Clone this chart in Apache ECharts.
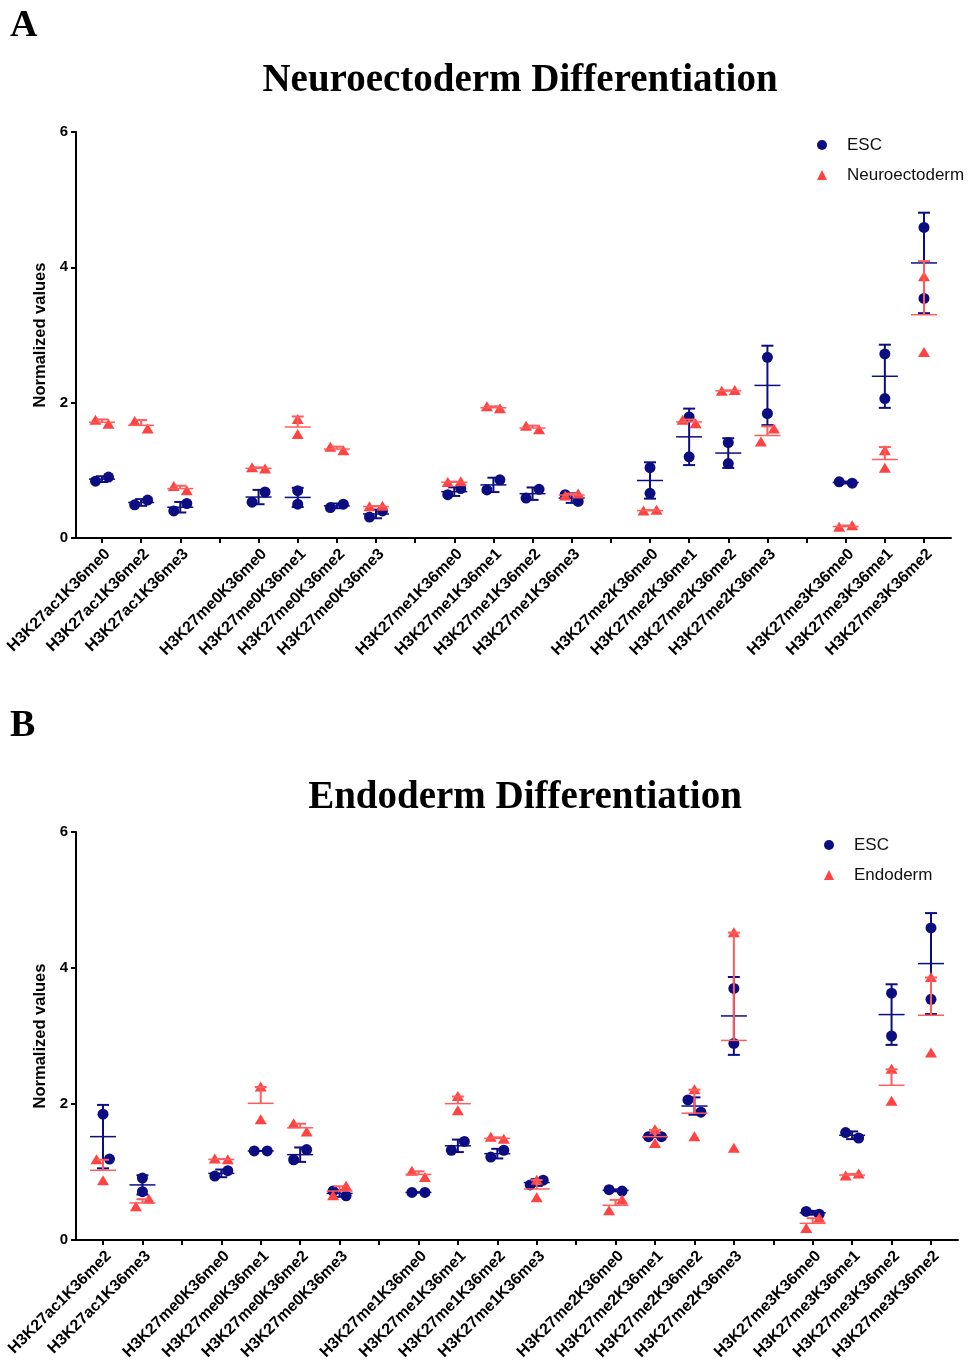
<!DOCTYPE html>
<html>
<head>
<meta charset="utf-8">
<title>Differentiation</title>
<script src="https://cdn.jsdelivr.net/npm/echarts@6/dist/echarts.min.js"></script>
<style>
  html, body { margin: 0; padding: 0; background: #fff; }
  .panel { width: 974px; height: 683px; }
</style>
</head>
<body>
<div id="chartA" class="panel"></div>
<div id="chartB" class="panel"></div>
<script>
// categories ('' = empty slot between groups)
var catsA = ['H3K27ac1K36me0', 'H3K27ac1K36me2', 'H3K27ac1K36me3', '',
  'H3K27me0K36me0', 'H3K27me0K36me1', 'H3K27me0K36me2', 'H3K27me0K36me3', '',
  'H3K27me1K36me0', 'H3K27me1K36me1', 'H3K27me1K36me2', 'H3K27me1K36me3', '',
  'H3K27me2K36me0', 'H3K27me2K36me1', 'H3K27me2K36me2', 'H3K27me2K36me3', '',
  'H3K27me3K36me0', 'H3K27me3K36me1', 'H3K27me3K36me2'];
var catsB = ['H3K27ac1K36me2', 'H3K27ac1K36me3', '',
  'H3K27me0K36me0', 'H3K27me0K36me1', 'H3K27me0K36me2', 'H3K27me0K36me3', '',
  'H3K27me1K36me0', 'H3K27me1K36me1', 'H3K27me1K36me2', 'H3K27me1K36me3', '',
  'H3K27me2K36me0', 'H3K27me2K36me1', 'H3K27me2K36me2', 'H3K27me2K36me3', '',
  'H3K27me3K36me0', 'H3K27me3K36me1', 'H3K27me3K36me2', 'H3K27me3K36me2'];

// two replicates per category
var escA = [[0.84, 0.90], [0.49, 0.56], [0.40, 0.51], null,
  [0.53, 0.68], [0.50, 0.70], [0.45, 0.50], [0.31, 0.40], null,
  [0.64, 0.73], [0.71, 0.86], [0.59, 0.72], [0.64, 0.54], null,
  [1.04, 0.66], [1.79, 1.20], [1.41, 1.10], [2.67, 1.84], null,
  [0.83, 0.81], [2.72, 2.06], [4.59, 3.54]];
var neuroA = [[1.74, 1.68], [1.72, 1.61], [0.76, 0.70], null,
  [1.04, 1.02], [1.75, 1.53], [1.34, 1.29], [0.46, 0.47], null,
  [0.82, 0.83], [1.94, 1.91], [1.65, 1.60], [0.62, 0.65], null,
  [0.40, 0.41], [1.74, 1.69], [2.17, 2.18], [1.42, 1.61], null,
  [0.16, 0.18], [1.29, 1.03], [3.86, 2.74]];

var escB = [[1.85, 1.19], [0.91, 0.71], null,
  [0.94, 1.02], [1.31, 1.31], [1.18, 1.33], [0.72, 0.65], null,
  [0.70, 0.70], [1.32, 1.45], [1.22, 1.32], [0.81, 0.88], null,
  [0.74, 0.72], [1.52, 1.52], [2.06, 1.88], [3.70, 2.89], null,
  [0.42, 0.38], [1.58, 1.50], [3.63, 3.00], [4.59, 3.54]];
var endoB = [[1.18, 0.87], [0.49, 0.60], null,
  [1.19, 1.18], [2.25, 1.77], [1.71, 1.59], [0.65, 0.79], null,
  [1.01, 0.92], [2.11, 1.90], [1.51, 1.48], [0.88, 0.62], null,
  [0.43, 0.59], [1.62, 1.42], [2.21, 1.52], [4.52, 1.35], null,
  [0.17, 0.32], [0.94, 0.97], [2.51, 2.04], [3.86, 2.75]];

var yTicks = [0, 2, 4, 6];

var NAVY = '#0d0d82';
var RED = '#ff4242';
var RED_LINE = '#ff5c5c';

// side-by-side placement of points that would overlap (like the prism scatter)
function pairOffsets(v, ppu) {
  if (Math.abs(v[0] - v[1]) * ppu < 13) return [-6.5, 6.5];
  return [0, 0];
}
function jitter(esc, other, ppu) {
  var e = pairOffsets(esc, ppu), o = pairOffsets(other, ppu);
  for (var i = 0; i < 2; i++) {
    for (var j = 0; j < 2; j++) {
      if (e[i] === 0 && o[j] === 0 && Math.abs(esc[i] - other[j]) * ppu < 10) {
        e[i] = 6.5; o[j] = -6.5;
      }
    }
  }
  return { esc: e, other: o };
}

// err: 'sd' or 'sem'; upOnly: draw only the upper half of the bar
function makeSeries(name, color, lineColor, shape, own, escArr, otherArr, isEsc, err, upOnly) {
  var data = [];
  for (var i = 0; i < own.length; i++) {
    if (own[i]) data.push([i, own[i][0], own[i][1]]);
  }
  return {
    name: name,
    type: 'custom',
    itemStyle: { color: color },
    data: data,
    renderItem: function (params, api) {
      var idx = api.value(0);
      var v = [api.value(1), api.value(2)];
      var ppu = api.coord([0, 0])[1] - api.coord([0, 1])[1];
      var jit = jitter(escArr[idx], otherArr[idx], ppu);
      var offs = isEsc ? jit.esc : jit.other;
      var cx = api.coord([idx, 0])[0];
      var mean = (v[0] + v[1]) / 2;
      var e = err === 'sem' ? Math.abs(v[0] - v[1]) / 2 : Math.abs(v[0] - v[1]) / Math.SQRT2;
      var yM = api.coord([idx, mean])[1];
      var yHi = api.coord([idx, mean + e])[1];
      var yLo = upOnly ? yM : api.coord([idx, mean - e])[1];
      var children = [];
      for (var k = 0; k < 2; k++) {
        var px = cx + offs[k];
        var py = api.coord([idx, v[k]])[1];
        if (shape === 'circle') {
          children.push({ type: 'circle', shape: { cx: px, cy: py, r: 5.5 }, style: { fill: color } });
        } else {
          children.push({ type: 'polygon', shape: { points: [[px, py - 5.5], [px - 6, py + 4.5], [px + 6, py + 4.5]] }, style: { fill: color } });
        }
      }
      var ls = { stroke: lineColor, lineWidth: 2 };
      children.push({ type: 'line', shape: { x1: cx, y1: yHi, x2: cx, y2: yLo }, style: ls });
      children.push({ type: 'line', shape: { x1: cx - 6, y1: yHi, x2: cx + 6, y2: yHi }, style: ls });
      if (!upOnly) {
        children.push({ type: 'line', shape: { x1: cx - 6, y1: yLo, x2: cx + 6, y2: yLo }, style: ls });
      }
      children.push({ type: 'line', shape: { x1: cx - 13, y1: yM, x2: cx + 13, y2: yM }, style: { stroke: lineColor, lineWidth: 1.5 } });
      return { type: 'group', children: children };
    }
  };
}

function buildOption(p) {
  var tickIdx = p.cats.map(function (c, i) { return i; });
  var labelIdx = tickIdx.filter(function (i) { return p.cats[i] !== ''; });
  return {
    animation: false,
    graphic: [
      { type: 'text', x: 10, y: p.letterY, style: { text: p.letter, font: 'bold 38px "Liberation Serif"', fill: '#000', textVerticalAlign: 'middle' } },
      { type: 'text', x: p.titleX, y: p.titleY, style: { text: p.title, font: 'bold 39px "Liberation Serif"', fill: '#000', textAlign: 'center', textVerticalAlign: 'middle' } }
    ],
    legend: {
      orient: 'vertical',
      left: p.legendLeft,
      top: p.legendTop,
      itemWidth: 10,
      itemHeight: 10,
      itemGap: 10,
      selectedMode: false,
      textStyle: { fontFamily: 'Liberation Sans', fontSize: 17, color: '#111', lineHeight: 20, padding: [0, 0, 0, 15] },
      data: [{ name: 'ESC', icon: 'circle' }, { name: p.otherName, icon: 'triangle' }]
    },
    grid: { left: 76, top: p.gridTop, width: p.gridWidth, height: p.gridHeight, outerBoundsMode: 'none', containLabel: false },
    xAxis: {
      type: 'value',
      min: p.xMin,
      max: p.xMax,
      splitLine: { show: false },
      axisLine: { lineStyle: { color: '#000', width: 2 } },
      axisTick: { customValues: tickIdx, length: 5, lineStyle: { color: '#000', width: 2 } },
      axisLabel: {
        customValues: labelIdx,
        rotate: 45,
        margin: 8,
        verticalAlign: 'top',
        color: '#000',
        fontFamily: 'Liberation Sans',
        fontWeight: 'bold',
        fontSize: 16,
        formatter: function (v) { return p.cats[Math.round(v)]; }
      }
    },
    yAxis: {
      type: 'value',
      min: 0,
      max: 6,
      interval: 2,
      name: 'Normalized values',
      nameLocation: 'middle',
      nameRotate: 90,
      nameGap: 19,
      nameTextStyle: { fontFamily: 'Liberation Sans', fontWeight: 'bold', fontSize: 16.5, color: '#000' },
      splitLine: { show: false },
      axisLine: { show: true, onZero: false, lineStyle: { color: '#000', width: 2 } },
      axisTick: { show: true, length: 5, lineStyle: { color: '#000', width: 2 } },
      axisLabel: {
        margin: 8,
        color: '#000',
        fontFamily: 'Liberation Sans',
        fontWeight: 'bold',
        fontSize: 15,
        customValues: yTicks
      }
    },
    series: [
      makeSeries('ESC', NAVY, NAVY, 'circle', p.esc, p.esc, p.other, true, 'sd', false),
      makeSeries(p.otherName, RED, RED_LINE, 'triangle', p.other, p.esc, p.other, false, p.otherErr, true)
    ]
  };
}

var chartA = echarts.init(document.getElementById('chartA'));
chartA.setOption(buildOption({
  letter: 'A', letterY: 26,
  title: 'Neuroectoderm Differentiation', titleX: 520, titleY: 81,
  cats: catsA, esc: escA, other: neuroA, otherName: 'Neuroectoderm', otherErr: 'sd',
  gridTop: 132, gridWidth: 875, gridHeight: 406,
  xMin: -0.664, xMax: 21.69,
  legendLeft: 812, legendTop: 130
}));

var chartB = echarts.init(document.getElementById('chartB'));
chartB.setOption(buildOption({
  letter: 'B', letterY: 43,
  title: 'Endoderm Differentiation', titleX: 525, titleY: 115,
  cats: catsB, esc: escB, other: endoB, otherName: 'Endoderm', otherErr: 'sem',
  gridTop: 149, gridWidth: 882, gridHeight: 408,
  xMin: -0.685, xMax: 21.685,
  legendLeft: 819, legendTop: 147
}));
</script>
</body>
</html>
